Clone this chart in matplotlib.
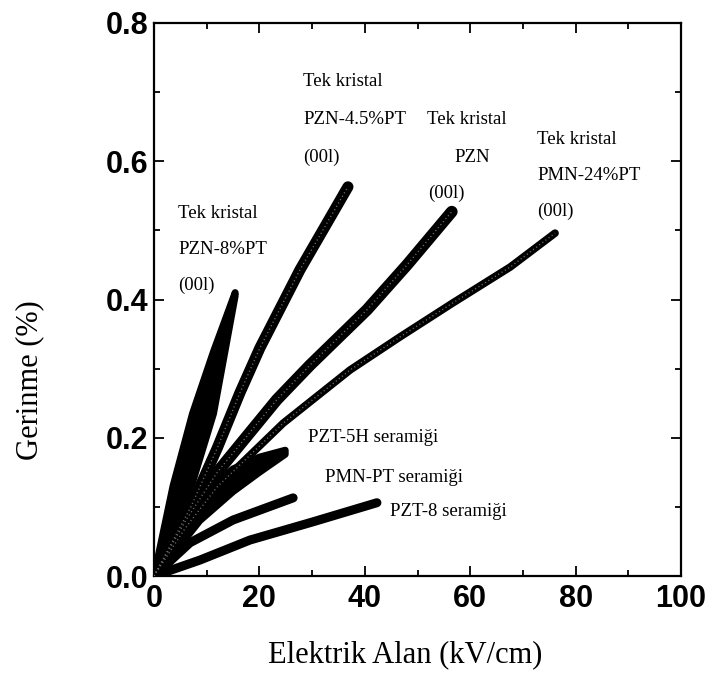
import numpy as np
import matplotlib
matplotlib.use('Agg')
import matplotlib.pyplot as plt
from matplotlib.ticker import MultipleLocator, FormatStrFormatter

# ---- data (field in kV/cm, strain in %) ----
field_pzn8 = [0, 3.6, 7.3, 11.3, 15.4]
strain_pzn8_up = [0, 0.13, 0.235, 0.325, 0.41]
strain_pzn8_lo = [0, 0.05, 0.135, 0.235, 0.405]

field_pzn45 = [0, 7, 12, 16.3, 20.1, 27.7, 36.8]
strain_pzn45 = [0, 0.10, 0.185, 0.265, 0.33, 0.443, 0.563]

field_pzn = [0, 6, 12, 23.3, 29.6, 40.4, 48, 56.5]
strain_pzn = [0, 0.08, 0.15, 0.255, 0.305, 0.385, 0.45, 0.527]

field_pmn24 = [0, 6, 12, 24.5, 37.2, 46.7, 56.7, 67.6, 76.1]
strain_pmn24 = [0, 0.07, 0.129, 0.221, 0.298, 0.346, 0.395, 0.447, 0.496]

field_pzt5h = [0, 4, 8.7, 15, 20, 24.9]
strain_pzt5h_up = [0, 0.07, 0.115, 0.155, 0.172, 0.182]
strain_pzt5h_lo = [0, 0.035, 0.08, 0.122, 0.15, 0.176]

field_pmnpt = [0, 6.8, 15, 26.4]
strain_pmnpt = [0, 0.048, 0.081, 0.113]

field_pzt8 = [0, 8.7, 18.2, 30, 42.3]
strain_pzt8 = [0, 0.023, 0.052, 0.078, 0.106]

x_ticks = [0, 20, 40, 60, 80, 100]
y_ticks = [0.0, 0.2, 0.4, 0.6, 0.8]

serif = ['Liberation Serif', 'DejaVu Serif']
sans = ['Liberation Sans', 'DejaVu Sans']

fig = plt.figure(figsize=(7.16, 6.89), dpi=100)
ax = fig.add_axes([154/716, 1-576/689, (681-154)/716, (576-23)/689])

def loop(x, up, lo, lw):
    xs = np.concatenate([x, x[::-1]])
    ys = np.concatenate([up, lo[::-1]])
    ax.fill(xs, ys, facecolor='black', edgecolor='black', lw=lw,
            joinstyle='round', zorder=3)

loop(np.array(field_pzn8), np.array(strain_pzn8_up), np.array(strain_pzn8_lo), 5)
loop(np.array(field_pzt5h), np.array(strain_pzt5h_up), np.array(strain_pzt5h_lo), 5)

def band(x, y, lw, beads=True):
    ax.plot(x, y, color='black', lw=lw, solid_capstyle='round',
            solid_joinstyle='round', zorder=3)
    if beads:
        ax.plot(x, y, color='#6e6e6e', lw=1.0, ls=(0, (0.8, 2.0)), zorder=4)

band(field_pzn45, strain_pzn45, 8)
band(field_pzn, strain_pzn, 8.5)
band(field_pmn24, strain_pmn24, 5.5)
band(field_pmnpt, strain_pmnpt, 6.5, beads=False)
band(field_pzt8, strain_pzt8, 6.5, beads=False)

ax.set_xlim(0, 100)
ax.set_ylim(0, 0.8)
ax.set_xticks(x_ticks)
ax.set_yticks(y_ticks)
ax.xaxis.set_minor_locator(MultipleLocator(10))
ax.yaxis.set_minor_locator(MultipleLocator(0.1))
ax.yaxis.set_major_formatter(FormatStrFormatter('%.1f'))
ax.tick_params(which='both', direction='in', top=True, right=True, width=1.3)
ax.tick_params(which='major', length=7)
ax.tick_params(which='minor', length=4)
ax.tick_params(axis='x', which='major', pad=6)
ax.tick_params(axis='y', which='major', pad=4)
for lab in ax.get_xticklabels() + ax.get_yticklabels():
    lab.set_fontfamily(sans)
    lab.set_fontweight('bold')
    lab.set_fontsize(22)
for s in ax.spines.values():
    s.set_linewidth(1.6)

fs = 13.5
def t(x, y, s):
    ax.text(x, y, s, family=serif, fontsize=fs, ha='left', va='center', zorder=5)

t(28.3, 0.715, 'Tek kristal')
t(28.3, 0.660, 'PZN-4.5%PT')
t(28.3, 0.606, '(00l)')
t(51.8, 0.660, 'Tek kristal')
t(57.1, 0.606, 'PZN')
t(52.0, 0.554, '(00l)')
t(72.7, 0.631, 'Tek kristal')
t(72.7, 0.580, 'PMN-24%PT')
t(72.7, 0.527, '(00l)')
t(4.55, 0.525, 'Tek kristal')
t(4.55, 0.472, 'PZN-8%PT')
t(4.55, 0.420, '(00l)')
t(29.3, 0.201, 'PZT-5H seramiği')
t(32.4, 0.142, 'PMN-PT seramiği')
t(44.8, 0.093, 'PZT-8 seramiği')

fig.text(405/716, 1-655/689, 'Elektrik Alan (kV/cm)', family=serif, fontsize=22,
         ha='center', va='center')
fig.text(30/716, 1-380/689, 'Gerinme (%)', family=serif, fontsize=22,
         ha='center', va='center', rotation=90)

fig.savefig('out.png', dpi=100)
